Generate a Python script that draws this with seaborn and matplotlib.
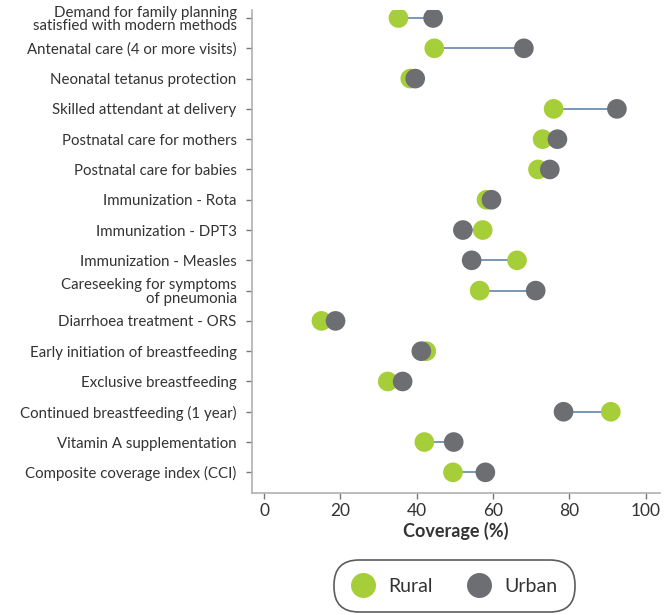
import matplotlib
matplotlib.use("Agg")
import matplotlib.pyplot as plt
import seaborn as sns
import pandas as pd
import numpy as np

indicators = [
    "Demand for family planning\nsatisfied with modern methods",
    "Antenatal care (4 or more visits)",
    "Neonatal tetanus protection",
    "Skilled attendant at delivery",
    "Postnatal care for mothers",
    "Postnatal care for babies",
    "Immunization - Rota",
    "Immunization - DPT3",
    "Immunization - Measles",
    "Careseeking for symptoms\nof pneumonia",
    "Diarrhoea treatment - ORS",
    "Early initiation of breastfeeding",
    "Exclusive breastfeeding",
    "Continued breastfeeding (1 year)",
    "Vitamin A supplementation",
    "Composite coverage index (CCI)",
]
rural = [35.2, 44.6, 38.3, 75.9, 73.0, 71.8, 58.3, 57.3, 66.3, 56.5, 15.0, 42.5, 32.4, 90.9, 42.0, 49.5]
urban = [44.3, 68.1, 39.6, 92.5, 76.9, 74.9, 59.6, 52.1, 54.4, 71.2, 18.7, 41.2, 36.3, 78.5, 49.7, 58.0]
xticks = [0, 20, 40, 60, 80, 100]

sns.set_theme(style="white")
plt.rcParams['font.family'] = ['Lato', 'DejaVu Sans']

GREEN = "#a6ce39"
GREY = "#6d6e71"
LINE = "#6f8fb3"
TXT = "#333333"

df = pd.DataFrame({"Indicator": indicators * 2,
                   "Coverage": rural + urban,
                   "Area": ["Rural"] * len(rural) + ["Urban"] * len(urban)})
df["pos"] = list(range(len(indicators))) * 2

fig = plt.figure(figsize=(6.71, 6.15), dpi=100)
ax = fig.add_axes([0.3756, 0.198, 0.608, 0.786])

ax.hlines(range(len(indicators)), rural, urban, color=LINE, lw=1.3, zorder=1)
sns.scatterplot(data=df, x="Coverage", y="pos", hue="Area",
                palette={"Rural": GREEN, "Urban": GREY},
                s=200, edgecolor="none", linewidth=0, ax=ax, zorder=3, legend=False)

ax.set_ylim(15.69, -0.27)
ax.set_xlim(-3.2, 103.8)
ax.set_yticks(range(len(indicators)))
ax.set_yticklabels(indicators, fontsize=10.8, color=TXT, linespacing=0.95, ma="right")
ax.set_xticks(xticks)
ax.set_xticklabels([str(t) for t in xticks], fontsize=12.5, color=TXT)
ax.set_xlabel("Coverage (%)", fontsize=13, fontweight="bold", color=TXT, labelpad=2)
ax.set_ylabel("")

for s in ["top", "right"]:
    ax.spines[s].set_visible(False)
for s in ["left", "bottom"]:
    ax.spines[s].set_color("#b0b0b0")
    ax.spines[s].set_linewidth(1.2)
ax.tick_params(axis="y", left=True, length=4, width=1, color="#777777", pad=7)
ax.tick_params(axis="x", bottom=True, length=4, width=1, color="#777777", pad=3)

from matplotlib.lines import Line2D
handles = [Line2D([], [], marker="o", ls="none", ms=18, color=GREEN, markeredgewidth=0),
           Line2D([], [], marker="o", ls="none", ms=18, color=GREY, markeredgewidth=0)]
leg = fig.legend(handles, ["Rural", "Urban"], loc="center", bbox_to_anchor=(0.677, 0.047),
                 ncol=2, frameon=True, fontsize=14, handletextpad=0.7, columnspacing=1.8,
                 borderpad=0.6, handlelength=1.2, borderaxespad=0)
frame = leg.get_frame()
frame.set_boxstyle("round,pad=0.3,rounding_size=1.3")
frame.set_edgecolor("#333333")
frame.set_linewidth(1.2)
frame.set_facecolor("white")
for t in leg.get_texts():
    t.set_color(TXT)

fig.savefig("out.png", dpi=100)
